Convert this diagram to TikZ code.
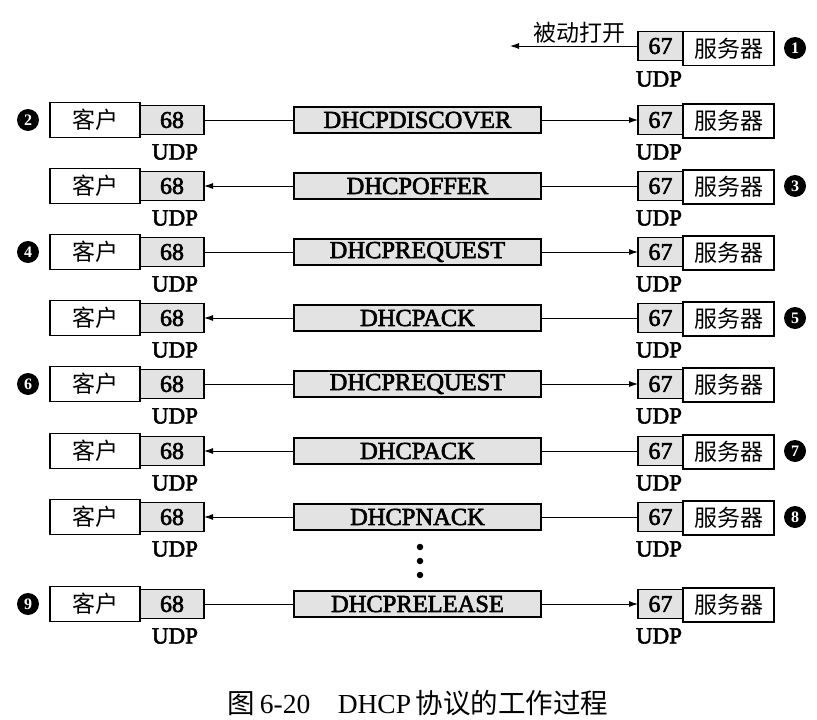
\documentclass[tikz,border=0pt]{standalone}
\usepackage{fontspec}
\setmainfont{Liberation Serif}
\newfontfamily\lat{Liberation Serif}[FakeBold=2.5]
\newfontfamily\cjk{Noto Sans CJK SC}
\usetikzlibrary{arrows.meta}
\begin{document}
\begin{tikzpicture}[x=1pt,y=-1pt,
  box/.style={draw,line width=1.1pt,inner sep=0pt,outer sep=0pt},
  client/.style={box,fill=white,minimum width=90pt,minimum height=35pt,font=\cjk\fontsize{23}{23}\selectfont},
  server/.style={box,fill=white,minimum width=91pt,minimum height=34pt,font=\cjk\fontsize{23}{23}\selectfont},
  port/.style={box,fill=gray!22,minimum height=29pt,font=\lat\fontsize{24}{24}\selectfont},
  msg/.style={box,fill=gray!22,minimum width=247pt,minimum height=26pt,font=\lat\fontsize{24.5}{24.5}\selectfont},
  udp/.style={inner sep=0pt,font=\lat\fontsize{23}{23}\selectfont},
  badge/.style={circle,fill=black,text=white,inner sep=0pt,minimum size=22pt,font=\bfseries\fontsize{16}{16}\selectfont},
  conn/.style={line width=0.9pt},
  plain/.style={conn},
  rgt/.style={conn,-{Latex[length=9pt,width=6pt]}},
  lft/.style={conn,{Latex[length=9pt,width=6pt]}-},
  dot/.style={circle,fill=black,inner sep=0pt,minimum size=6.5pt}
]
\useasboundingbox (0,0) rectangle (817,720);

% row 0: server passive open
\node[port,minimum width=45pt] (q0) at (660.5,46) {67};
\node[server] (s0) at (728.5,48.5) {服务器};
\node[udp] (u0) at (659,79) {UDP};
\coordinate (open) at (510,46);
\draw[lft] (open) -- (q0.west);
\node[font=\cjk\fontsize{23}{23}\selectfont,inner sep=0pt] (po) at (579,33) {被动打开};
\node[badge] (b1) at (795,48) {1};

\foreach \i/\y/\m/\a/\b in {
  1/120/DHCPDISCOVER/plain/rgt,
  2/186/DHCPOFFER/lft/plain,
  3/252/DHCPREQUEST/plain/rgt,
  4/318/DHCPACK/lft/plain,
  5/384/DHCPREQUEST/plain/rgt,
  6/451/DHCPACK/lft/plain,
  7/517/DHCPNACK/lft/plain,
  8/604/DHCPRELEASE/plain/rgt}{
  \node[client] (c\i) at (95,\y) {客户};
  \node[port,minimum width=64pt] (p\i) at (172,\y) {68};
  \node[msg] (m\i) at (417.5,\y) {\m};
  \node[port,minimum width=45pt] (q\i) at (660.5,\y) {67};
  \node[server] (s\i) at (728.5,\y+1) {服务器};
  \node[udp] (ul\i) at (175,\y+32) {UDP};
  \node[udp] (ur\i) at (659,\y+32) {UDP};
  \draw[\a] (p\i.east) -- (m\i.west);
  \draw[\b] (m\i.east) -- (q\i.west);
}

\node[badge] (b2) at (28,120) {2};
\node[badge] (b3) at (795,186) {3};
\node[badge] (b4) at (28,252) {4};
\node[badge] (b5) at (795,318) {5};
\node[badge] (b6) at (28,384) {6};
\node[badge] (b7) at (795,451) {7};
\node[badge] (b8) at (795,517) {8};
\node[badge] (b9) at (28,604) {9};

\node[dot] (d1) at (420,547) {};
\node[dot] (d2) at (420,561) {};
\node[dot] (d3) at (420,575) {};

\node[inner sep=0pt,font=\fontsize{27.5}{27.5}\selectfont] (cap) at (418,703)
  {{\cjk 图}\,6-20\hspace{1em}DHCP\,{\cjk 协议的工作过程}};
\end{tikzpicture}
\end{document}
